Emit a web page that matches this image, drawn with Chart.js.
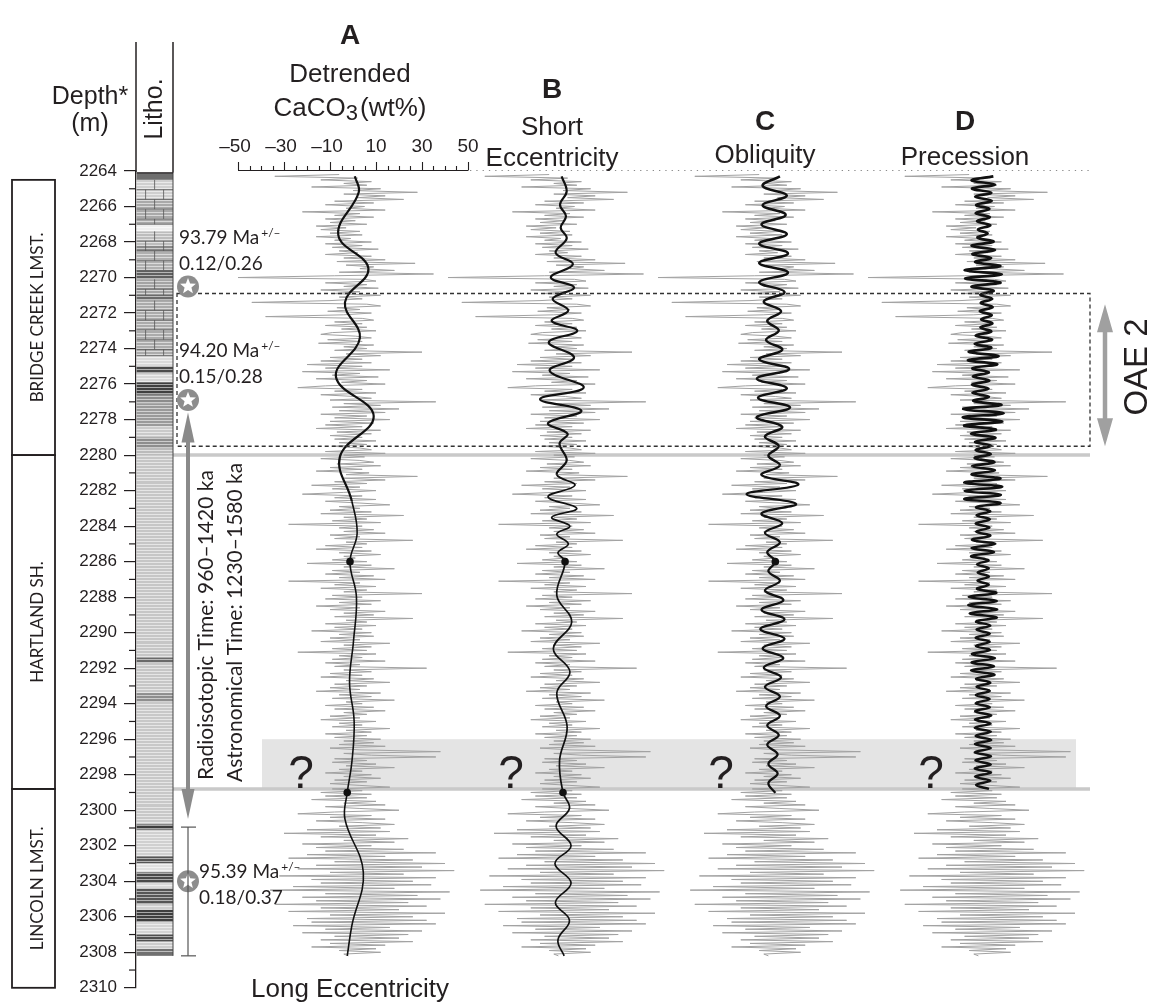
<!DOCTYPE html>
<html>
<head>
<meta charset="utf-8">
<title>Detrended CaCO3 and astronomical filters</title>
<script src="https://cdn.jsdelivr.net/npm/chart.js@4.4.1/dist/chart.umd.min.js"></script>
<style>
  html, body { margin: 0; padding: 0; background: #fff; }
  canvas { display: block; }
</style>
</head>
<body>
<canvas id="chart" width="1149" height="1005"></canvas>
<script>
// Depth scale (m) and top axis ticks
const depthMin = 2264;
const depthMax = 2310;
const caco3Ticks = [-50, -30, -10, 10, 30, 50];

// Detrended CaCO3 (wt%), one sample every 0.1 m starting at 2264.2 m
const caco3Start = 2264.2;
const caco3Step = 0.1;
const caco3 = [
  -6, -34, 2, -14, 8, -4, 6, -18, 12, 0,
  28, -4, 14, 2, 22, -8, 9, -12, 5, -3,
  14, -22, 3, -8, 9, -12, 1, -10, 6, -16,
  -3, -14, 3, -10, 4, -16, -1, -8, 8, -12,
  4, -9, 11, -6, 2, -12, 8, -4, 14, -7,
  27, -3, 9, 3, 18, -6, 35, -8, -50, 5,
  10, -12, 6, -4, 11, -14, 3, -9, 12, -6,
  4, -10, -44, 6, 12, -7, 3, -11, 8, -4,
  -38, 4, 9, -8, 4, -12, 6, -5, 10, -9,
  -14, 1, 8, -11, 4, -15, 9, -4, 6, -8,
  30, -3, 12, -10, 4, -14, 8, -20, 4, -12,
  16, -22, 3, -9, 11, -16, 6, -5, 14, -12,
  -24, 4, -8, 10, -14, 1, 8, -10, 36, -4,
  12, -9, 20, -6, 14, -14, 6, -8, 16, -10,
  9, -12, 4, -16, 12, -7, 8, -10, 4, -8,
  10, -6, 6, -9, 3, 8, -12, 14, -4, 5,
  -14, 3, 9, -7, 12, -10, 4, -16, 7, -3,
  28, -4, 14, -8, 6, -18, 3, -9, 10, -4,
  -22, 4, -8, 10, -12, 3, 16, -6, 3, -10,
  8, -14, 22, -4, 6, -9, 12, -28, 4, -6,
  9, -4, 14, -10, 3, -8, 26, -3, 6, -12,
  4, -16, 8, -6, 12, -4, 1, -9, 6, -20,
  8, -4, 18, -9, 3, -12, 9, -6, 14, -28,
  3, -8, 10, -14, 6, -4, 30, -9, 4, -12,
  12, -6, 8, -16, 3, -10, 14, -4, 9, -8,
  26, -3, 6, -12, 10, -8, 4, -18, 8, -6,
  9, -10, 3, -14, 16, -4, 8, -9, 6, -24,
  10, -6, 4, -9, 14, -12, 3, -8, 32, -4,
  8, -10, 4, -14, 9, -3, 16, -8, 6, -10,
  3, -16, 12, -6, 8, -9, 18, -3, 4, -12,
  9, -8, 14, -4, 6, -10, 3, -14, 10, -6,
  4, -9, 16, -3, 8, -12, 6, -8, 12, -4,
  9, -6, 14, -10, 3, 38, -4, 8, 36, -8,
  6, -9, 10, -3, 18, -6, 4, -12, 8, -4,
  12, -8, 6, -10, 3, 16, -9, 4, -14, 8,
  -12, 6, -18, 10, -4, 14, -12, 3, 20, -8,
  -24, 8, -10, 14, -16, 4, 18, -6, 12, -20,
  16, -30, 10, -14, 24, -4, 18, -22, 8, -16,
  22, -12, 36, -20, 14, -28, 26, -8, 40, -16,
  30, -24, 44, -10, 22, -32, 36, -18, 26, -14,
  34, -26, 18, -36, 42, -12, 28, -22, 38, -16,
  24, -34, 32, -14, 20, -28, 40, -10, 26, -20,
  32, -18, 36, -26, 16, -12, 30, -22, 24, -8,
  20, -14, 26, -10, 14, -18, 10, -6, 12, -4,
  -2
];

// A: long eccentricity filter
const longEccDepth = [2264.3, 2265.2, 2267.6, 2269.5, 2271.4, 2273.4, 2275.6, 2277.8, 2280.1, 2282.6,
  2284.4, 2286.0, 2288.0, 2290.5, 2292.8, 2295.0, 2297.3, 2299.0, 2300.5, 2303.5, 2306.5, 2308.2];
const longEcc = [0.8, 2.5, -6.4, 6.7, -3.5, 3.0, -7.4, 9.0, -5.7, -0.5,
  1.8, -1.3, 1.5, 0.2, -1.5, 0.5, -0.5, -2.5, -3.5, 4.5, -0.5, -2.5];

// B: short eccentricity filter
const shortEccDepth = [2264.3, 2265.15, 2265.9, 2266.55, 2267.2, 2267.8, 2268.6, 2269.25, 2270.0, 2270.55,
  2271.2, 2271.85, 2272.45, 2273.0, 2273.65, 2274.5, 2275.25, 2276.2, 2276.85, 2277.5,
  2278.2, 2278.8, 2279.35, 2280.3, 2281.1, 2281.7, 2282.35, 2283.0, 2283.5, 2284.0,
  2284.45, 2285.0, 2285.5, 2286.0, 2287.9, 2289.4, 2290.9, 2292.2, 2293.4, 2295.3,
  2297.2, 2299.0, 2299.9, 2300.9, 2302.0, 2303.0, 2304.1, 2305.2, 2306.2, 2307.3, 2308.2];
const shortEcc = [-0.6, 1.6, -1.3, 1.3, -1.0, 1.6, -3.2, 4.3, -5.3, 4.8,
  -4.5, 2.3, -4.9, 6.2, -6.2, 4.8, -5.8, 9.0, -10.0, 8.0,
  -6.5, 2.0, -1.5, 1.6, -2.7, 5.2, -6.5, 6.0, -4.9, 3.0,
  -2.7, 2.3, -2.2, 0.9, -2.7, 3.8, -4.2, 3.0, -2.7, 1.8,
  -1.5, 0.0, 2.8, -3.0, 3.5, -3.5, 3.5, -3.3, 2.8, -2.2, 0.5];

// C: obliquity filter, one value every 0.5425 m from 2264.3 m
const obliqStart = 2264.3;
const obliqStep = 0.5425;
const obliquity = [3, -4.5, 6, -4.5, 5.5, -5, 6, -6, 6.5, -6,
  6.5, -6, 5, -4, 3.5, -2.5, 2.5, -3, 4, -6,
  7, -7, 6, -6.5, 7.4, -7.1, 4, -3.5, 2.5, -2,
  3, -5, 11, -11.5, 10, -5, 4, -3.5, 3, -2.5,
  1, -2, 3, -3.5, 4.5, -5, 5, -5.5, 5, -4.5,
  4.5, -4, 3.5, -3.5, 3, -3, 3, -2.5, 2.5, -2.5,
  2, -2, 2, -2, 1];

// D: precession filter, one value every 0.23 m from 2264.3 m
const precStart = 2264.3;
const precStep = 0.23;
const precession = [4.5, -5, 5.2, -4.8, 3.6, -3.4, 3.8, -3, 2.8, -3.2,
  3, -2.6, 3.2, -2.2, 2, -2.4, 4.6, -5, 5.2, -4.6,
  3.5, -3.4, 7.5, -8, 8.2, -7.8, 7.6, -5, 4.6, -1.2,
  4, -1, 4.2, -1.4, 3.8, -0.8, 4.1, -1.1, 3.6, -3.2,
  4, -3.6, 3.6, -6.2, 6.8, -6.6, 6.2, -4.6, 2.6, -4.4,
  2.8, -4.8, 2.4, -4.6, 2.6, -4.2, 8, -8.6, 9, -8.8,
  8.4, -8.2, 5.6, -5.2, 5.4, -3.4, 3.6, -3.2, 3.4, -3.6,
  5, -4.8, 5.2, -5, 7.6, -8.2, 8.4, -8, 7.8, -8.2,
  7.6, -3, 3.2, -2.8, 3, -3.2, 2.8, -3, 3.2, -4.8,
  5.2, -5, 4.8, -5.2, 2.4, -2.6, 2.5, -2.3, 2.6, -2.4,
  2.5, -2.6, 5.8, -6.2, 6, -6.4, 6.2, -5.8, 6, -3,
  3.2, -2.8, 3, -3.2, 2.9, -3.1, 3, -4.8, 5.2, -5,
  4.8, -5.2, 5, -3, 3.2, -2.8, 3, -3.1, 2.9, -3.2,
  3, -3.4, 3.6, -3.5, 3.3, -3.6, 3.4, -3.2, 3.6, -3.5,
  3.4, -3.6, 3.5, -3.3, 3.4, -3.6, 3.5, -3.4, 3.2, -3, 2.6];

// tie points (filled dots) per panel
const tiesA = [2286, 2299];
const tiesB = [2286, 2299];
const tiesC = [2286];

// lithology beds: top, bottom, shade
const lithoBeds = [
  [2264.1, 2264.5, '#6e6e6e'], [2264.5, 2265.6, '#cfcfcf'], [2265.6, 2267.0, '#a9a9a9'],
  [2267.0, 2267.4, '#efefef'], [2267.4, 2268.2, '#bdbdbd'], [2268.2, 2268.6, '#8a8a8a'],
  [2268.6, 2269.6, '#b0b0b0'], [2269.6, 2270.1, '#5f5f5f'], [2270.1, 2271.0, '#a4a4a4'],
  [2271.0, 2271.3, '#6a6a6a'], [2271.3, 2274.4, '#ababab'], [2274.4, 2275.0, '#dadada'],
  [2275.0, 2275.4, '#4a4a4a'], [2275.4, 2275.9, '#d5d5d5'], [2275.9, 2276.6, '#3f3f3f'],
  [2276.6, 2277.1, '#8c8c8c'], [2277.1, 2278.4, '#9a9a9a'], [2278.4, 2279.0, '#cacaca'],
  [2279.0, 2279.6, '#8e8e8e'], [2279.6, 2280.0, '#bbbbbb'], [2280.0, 2291.4, '#c6c6c6'],
  [2291.4, 2291.7, '#6a6a6a'], [2291.7, 2293.4, '#c6c6c6'], [2293.4, 2293.9, '#8e8e8e'],
  [2293.9, 2300.8, '#c8c8c8'], [2300.8, 2301.1, '#3c3c3c'], [2301.1, 2302.6, '#d0d0d0'],
  [2302.6, 2303.0, '#555555'], [2303.0, 2303.5, '#e0e0e0'], [2303.5, 2304.1, '#4a4a4a'],
  [2304.1, 2304.4, '#d9d9d9'], [2304.4, 2305.3, '#555555'], [2305.3, 2305.6, '#cfcfcf'],
  [2305.6, 2306.3, '#3e3e3e'], [2306.3, 2307.0, '#d3d3d3'], [2307.0, 2307.4, '#4e4e4e'],
  [2307.4, 2307.8, '#cccccc'], [2307.8, 2308.2, '#707070']
];
const limestoneBeds = [[2264.5, 2267.0], [2267.4, 2269.6], [2270.1, 2271.0], [2271.3, 2274.4]];

const formations = [
  ['BRIDGE CREEK LMST.', 2264.5, 2280.0],
  ['HARTLAND SH.', 2280.0, 2298.8],
  ['LINCOLN LMST.', 2298.8, 2310.0]
];

// layout
const areaLeft = 136, areaRight = 1149;
const pxPerUnit = 2.3;
const panels = [
  { key: 'A', center: 353, depth: longEccDepth, values: longEcc, ties: tiesA, width: 2.2, thin: 1.6 },
  { key: 'B', center: 563, depth: shortEccDepth, values: shortEcc, ties: tiesB, width: 2.2, thin: 1.7 },
  { key: 'C', center: 773, depth: obliquity.map((v, i) => +(obliqStart + i * obliqStep).toFixed(3)), values: obliquity, ties: tiesC, width: 2.5, thin: 2.3 },
  { key: 'D', center: 983, depth: precession.map((v, i) => +(precStart + i * precStep).toFixed(3)), values: precession, ties: [], width: 2.7, thin: 2.5 }
];

const ink = '#231f20';
const datasets = [];
const scales = {
  y: {
    type: 'linear', min: depthMin, max: depthMax, reverse: true, position: 'left',
    afterFit: s => { s.width = areaLeft; },
    ticks: { stepSize: 2, autoSkip: false, padding: 7, color: ink,
      font: { family: 'Liberation Sans', size: 17 }, callback: v => String(v) },
    grid: { drawOnChartArea: false, drawTicks: true, tickLength: 12, color: ink, lineWidth: 1.2 },
    border: { display: true, color: ink, width: 1.3 }
  }
};

panels.forEach(p => {
  const id = 'x' + p.key;
  scales[id] = { axis: 'x', type: 'linear', display: false,
    min: (areaLeft - p.center) / pxPerUnit, max: (areaRight - p.center) / pxPerUnit };
  datasets.push({
    label: p.key + ' filter', xAxisID: id, order: 1,
    data: p.depth.map((d, i) => ({ x: p.values[i], y: d })),
    borderColor: '#111', borderWidth: p.width, tension: 0.4,
    segment: { borderWidth: c => (c.p0.parsed.y >= 2280.5 ? p.thin : p.width) },
    pointRadius: c => (c.raw && p.ties.some(t => Math.abs(t - c.raw.y) < 0.01) ? 3.8 : 0),
    pointBackgroundColor: '#111', pointBorderWidth: 0, pointHoverRadius: 0
  });
  datasets.push({
    label: p.key + ' CaCO3', xAxisID: id, order: 2,
    data: caco3.map((v, i) => ({ x: v, y: +(caco3Start + i * caco3Step).toFixed(2) })),
    borderColor: '#a2a2a2', borderWidth: 1, tension: 0, pointRadius: 0
  });
});

function line(ctx, x1, y1, x2, y2) {
  ctx.beginPath(); ctx.moveTo(x1, y1); ctx.lineTo(x2, y2); ctx.stroke();
}
function text(ctx, s, x, y, font, align) {
  ctx.font = font; ctx.textAlign = align || 'left'; ctx.textBaseline = 'alphabetic';
  ctx.fillText(s, x, y);
}
function vtext(ctx, s, x, y, font, align) {
  ctx.save(); ctx.translate(x, y); ctx.rotate(-Math.PI / 2);
  text(ctx, s, 0, 0, font, align); ctx.restore();
}
function star(ctx, x, y) {
  ctx.fillStyle = '#8d8d8d';
  ctx.beginPath(); ctx.arc(x, y, 11, 0, 2 * Math.PI); ctx.fill();
  ctx.fillStyle = '#fff'; ctx.beginPath();
  for (let k = 0; k < 10; k++) {
    const r = k % 2 ? 3.6 : 8.3, a = -Math.PI / 2 + k * Math.PI / 5;
    ctx.lineTo(x + r * Math.cos(a), y + r * Math.sin(a));
  }
  ctx.closePath(); ctx.fill();
}
function vArrow(ctx, x, y1, y2, color, w, head, half) {
  ctx.strokeStyle = color; ctx.fillStyle = color; ctx.lineWidth = w;
  line(ctx, x, y1 + head - 2, x, y2 - head + 2);
  ctx.beginPath(); ctx.moveTo(x, y1); ctx.lineTo(x - half, y1 + head); ctx.lineTo(x + half, y1 + head); ctx.closePath(); ctx.fill();
  ctx.beginPath(); ctx.moveTo(x, y2); ctx.lineTo(x - half, y2 - head); ctx.lineTo(x + half, y2 - head); ctx.closePath(); ctx.fill();
}
function dateLabel(ctx, age, err, x, y) {
  ctx.fillStyle = ink;
  text(ctx, age, x, y, '19px Lato');
  const w = ctx.measureText(age).width;
  text(ctx, '+/\u2013', x + w + 2, y - 7, '12px Lato');
  text(ctx, err, x, y + 26, '19px Lato');
}

const decor = {
  id: 'decor',
  beforeDatasetsDraw(chart) {
    const ctx = chart.ctx, Y = d => chart.scales.y.getPixelForValue(d);
    ctx.save();
    ctx.fillStyle = '#e4e4e4';
    ctx.fillRect(262, Y(2296.0), 1076 - 262, Y(2298.8) - Y(2296.0));
    ctx.strokeStyle = '#c9c9c9'; ctx.lineWidth = 3.5;
    [2280.0, 2298.8].forEach(d => line(ctx, 173, Y(d), 1090, Y(d)));
    ctx.restore();
  },
  afterDatasetsDraw(chart) {
    const ctx = chart.ctx, Y = d => chart.scales.y.getPixelForValue(d);
    ctx.save();
    // OAE 2 interval
    ctx.strokeStyle = '#333'; ctx.lineWidth = 1.3; ctx.setLineDash([4, 3]);
    ctx.strokeRect(177, Y(2270.9), 1090 - 177, Y(2279.5) - Y(2270.9));
    ctx.strokeStyle = '#8a8a8a'; ctx.lineWidth = 1; ctx.setLineDash([1.3, 5]);
    line(ctx, 470, 170.5, 1090, 170.5);
    ctx.setLineDash([]);

    // lithology column
    const colL = 136.6, colR = 173;
    lithoBeds.forEach(([t, b, c]) => { ctx.fillStyle = c; ctx.fillRect(colL, Y(t), colR - colL, Y(b) - Y(t)); });
    ctx.strokeStyle = 'rgba(255,255,255,0.55)'; ctx.lineWidth = 1;
    for (let d = 2264.6; d < 2308.1; d += 0.17) { const yy = Math.round(Y(d)) + 0.5; line(ctx, colL, yy, colR, yy); }
    ctx.strokeStyle = '#555'; ctx.lineWidth = 0.8;
    limestoneBeds.forEach(([t, b]) => {
      let row = 0;
      for (let d = t; d < b - 0.1; d += 0.55, row++) {
        const y0 = Y(d), y1 = Y(Math.min(d + 0.55, b));
        line(ctx, colL, y1, colR, y1);
        const xs = row % 2 ? [colL + 9, colL + 27] : [colL + 18];
        xs.forEach(xx => line(ctx, xx, y0, xx, y1));
      }
    });
    ctx.strokeStyle = '#444'; ctx.lineWidth = 1;
    line(ctx, colR, Y(2264.1), colR, Y(2308.2));
    ctx.strokeStyle = ink; ctx.lineWidth = 1.5;
    line(ctx, 136, 42, 136, 172);
    line(ctx, colR, 42, colR, Y(2264.1));
    ctx.lineWidth = 1.3;
    line(ctx, colL, Y(2264.1), colR, Y(2264.1));

    // minor depth ticks
    ctx.strokeStyle = ink; ctx.lineWidth = 1.2;
    for (let d = depthMin + 1; d < depthMax; d += 2) line(ctx, 129, Y(d), 136, Y(d));

    // formation boxes
    ctx.strokeStyle = ink; ctx.lineWidth = 1.8; ctx.fillStyle = ink;
    formations.forEach(([name, t, b]) => {
      ctx.strokeRect(12, Y(t), 43, Y(b) - Y(t));
      vtext(ctx, name, 43, (Y(t) + Y(b)) / 2, '17px Lato', 'center');
    });

    // CaCO3 axis for panel A
    const xs = chart.scales.xA;
    ctx.strokeStyle = ink; ctx.lineWidth = 1.1;
    line(ctx, xs.getPixelForValue(-50), 170.5, xs.getPixelForValue(50), 170.5);
    for (let v = -50; v <= 50; v += 5) {
      const px = Math.round(xs.getPixelForValue(v)) + 0.5;
      line(ctx, px, 170.5, px, caco3Ticks.includes(v) ? 162 : 166);
    }
    ctx.fillStyle = ink;
    caco3Ticks.forEach(v => text(ctx, (v < 0 ? '\u2013' : '') + Math.abs(v), xs.getPixelForValue(v) - (v < 0 ? 3 : 0), 152, '19px "Liberation Sans"', 'center'));

    // radiometric dates
    star(ctx, 188, Y(2270.5));
    star(ctx, 188, Y(2276.9));
    star(ctx, 188, Y(2304.0));
    vArrow(ctx, 188, Y(2277.6), Y(2300.5), '#8a8a8a', 4, 30, 6.5);
    ctx.strokeStyle = '#555'; ctx.lineWidth = 1.2;
    line(ctx, 188, Y(2300.95), 188, Y(2308.2));
    line(ctx, 181, Y(2300.95), 196, Y(2300.95));
    line(ctx, 181, Y(2308.2), 196, Y(2308.2));
    vArrow(ctx, 1105, Y(2271.5), Y(2279.5), '#a0a0a0', 4.5, 28, 8);

    // texts
    ctx.fillStyle = ink;
    dateLabel(ctx, '93.79 Ma', '0.12/0.26', 179, 244);
    dateLabel(ctx, '94.20 Ma', '0.15/0.28', 179, 357);
    dateLabel(ctx, '95.39 Ma', '0.18/0.37', 199, 878);
    vtext(ctx, 'Radioisotopic Time: 960\u20131420 ka', 213, 780, '21px Lato', 'left');
    vtext(ctx, 'Astronomical Time: 1230\u20131580 ka', 242, 782, '21px Lato', 'left');
    vtext(ctx, 'OAE 2', 1147, 367, '33px "Liberation Sans"', 'center');

    text(ctx, 'Depth*', 90, 104, '25px "Liberation Sans"', 'center');
    text(ctx, '(m)', 90, 131, '25px "Liberation Sans"', 'center');
    vtext(ctx, 'Litho.', 162, 109, '25px "Liberation Sans"', 'center');

    text(ctx, 'A', 350, 44, 'bold 28px "Liberation Sans"', 'center');
    text(ctx, 'Detrended', 350, 82, '26px "Liberation Sans"', 'center');
    ctx.font = '26px "Liberation Sans"';
    const w1 = ctx.measureText('CaCO').width, w3 = ctx.measureText('(wt%)').width;
    ctx.font = '22px "Liberation Sans"';
    const w2 = ctx.measureText('3').width;
    let x0 = 350 - (w1 + w2 + 2 + w3) / 2;
    text(ctx, 'CaCO', x0, 116, '26px "Liberation Sans"');
    text(ctx, '3', x0 + w1, 120, '22px "Liberation Sans"');
    text(ctx, '(wt%)', x0 + w1 + w2 + 2, 116, '26px "Liberation Sans"');

    text(ctx, 'B', 552, 98, 'bold 28px "Liberation Sans"', 'center');
    text(ctx, 'Short', 552, 135, '26px "Liberation Sans"', 'center');
    text(ctx, 'Eccentricity', 552, 166, '26px "Liberation Sans"', 'center');
    text(ctx, 'C', 765, 130, 'bold 28px "Liberation Sans"', 'center');
    text(ctx, 'Obliquity', 765, 163, '26px "Liberation Sans"', 'center');
    text(ctx, 'D', 965, 130, 'bold 28px "Liberation Sans"', 'center');
    text(ctx, 'Precession', 965, 165, '26px "Liberation Sans"', 'center');
    text(ctx, 'Long Eccentricity', 350, 997, '26px "Liberation Sans"', 'center');

    panels.forEach(p => text(ctx, '?', p.center - 52, 788, '46px "Liberation Sans"', 'center'));
    ctx.restore();
  }
};

new Chart(document.getElementById('chart'), {
  type: 'line',
  data: { datasets },
  options: {
    indexAxis: 'y',
    responsive: false,
    devicePixelRatio: 1,
    animation: false,
    events: [],
    layout: { padding: { top: 171, bottom: 10, left: 0, right: 0 } },
    plugins: { legend: { display: false }, tooltip: { enabled: false } },
    scales
  },
  plugins: [decor]
});
</script>
</body>
</html>
